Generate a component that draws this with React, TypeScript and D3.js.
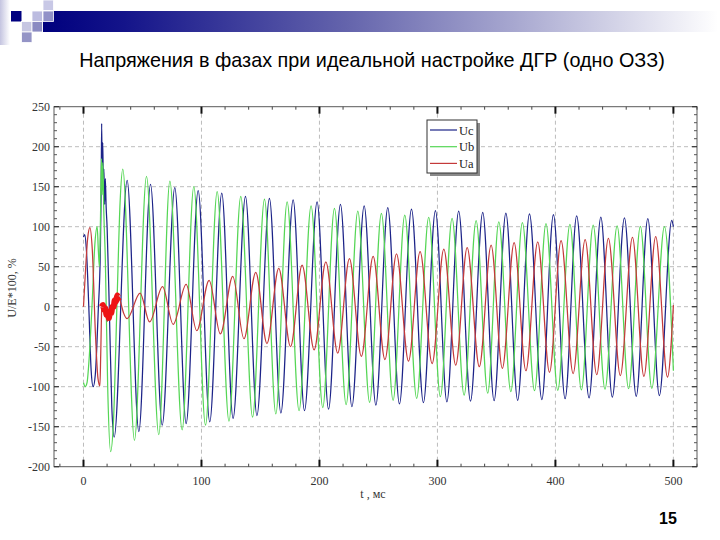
import React from "react";
import * as d3 from "d3";

// ---- data (t in ms, value in % of E) ----
const seriesNames = ["Uc", "Ub", "Ua"];
const seriesColors = ["#1c2388", "#55d655", "#c43a3a"];

const ucPoints: [number, number][] = [
  [0, 87], [1, 90], [2.5, 70], [4.5, 0], [6.5, -80], [8.2, -100], [10, -85], [12.5, -5], [14.3, 70], [15, 150],
  [15.4, 229], [15.8, 170], [16.3, 205], [16.8, 160], [17.3, 172], [17.9, 128], [18.5, 160], [19.2, 125], [20, 100],
  [22, -10], [24, -125], [26, -163], [37, 158], [46.9, -156], [56.8, 153], [66.7, -148], [77.4, 149], [87, -146],
  [97.2, 145], [107, -144], [117.2, 142], [126.8, -139.5], [137.3, 138], [147, -136], [157.6, 135.5], [167.3, -133],
  [177.7, 133.4], [187.3, -130], [198, 131], [207.7, -128], [217.8, 128], [227.5, -125], [237.9, 126], [247.8, -123],
  [257.9, 124], [267.8, -121.5], [278, 122], [288.1, -120], [298.3, 120], [308, -119], [318, 119.5], [328, -118],
  [338.4, 118], [348, -117.5], [358, 117], [368, -117], [378, 116], [388.5, -116], [398.3, 115], [408.2, -115],
  [418, 113.5], [428.5, -114], [438.5, 112], [448.2, -113], [458.5, 111], [468.5, -112], [478.3, 110], [488.1, -111],
  [498.6, 108], [500, 100],
];

const ubPoints: [number, number][] = [
  [0, -95], [1.5, -100], [3, -95], [5, -60], [7.5, 10], [9.5, 75], [11.6, 100], [12.6, 70], [13.5, 50], [14.4, 110],
  [15.2, 185], [15.8, 140], [16.4, 180], [17.2, 120], [18.5, 60], [20.5, -100], [23, -181], [25.5, -140], [28.5, 10],
  [31, 130], [33.3, 172], [43.2, -167], [53.4, 163], [63.8, -160], [73.2, 157], [83.6, -154], [93.5, 150],
  [103.4, -148], [113.3, 144], [123.3, -143], [133.3, 138], [143.3, -138], [153.4, 134.5], [163, -134], [172.6, 131],
  [182.7, -130], [192.9, 126], [202.8, -126], [212.7, 123], [222.6, -122.5], [232.5, 119.6], [242.5, -119.5],
  [252.5, 116.7], [262.4, -117], [272.3, 114.6], [282.4, -114.5], [292.6, 111.7], [302.5, -112.5], [312.4, 110.5],
  [322.6, -110.5], [332.8, 107.5], [342.6, -108], [352, 106], [362.2, -106], [372, 105], [382.3, -105], [392, 104],
  [402, -104.5], [412.3, 103], [422, -104], [432, 102], [442, -103], [452.3, 101], [462, -102.5], [472, 100.5],
  [481.7, -102], [492.4, 100], [500, -80],
];

const uaPoints: [number, number][] = [
  [0, 0], [1.5, 40], [3.5, 85], [5.4, 99], [7.5, 70], [10, -30], [12.3, -90], [13.9, -99], [14.6, -60], [15.5, -2],
  [17, 3], [18.5, -8], [20.3, -18], [22, -10], [24, -2], [26.5, 8], [28.6, 17], [31, 8], [34, -8], [37, -15],
  [48, 17], [56, -19], [67, 25], [76, -22], [87, 28], [96, -30], [106.5, 33], [116, -34], [126.5, 38], [136, -40],
  [146, 43], [155.5, -46], [165.5, 48], [175.5, -50], [185.3, 52], [195.5, -54], [205.4, 56], [215.5, -58],
  [225.4, 60], [235.5, -62], [245.5, 63], [255.5, -66], [265.3, 66], [275.5, -68], [285.3, 69], [295.5, -71],
  [305.4, 72], [315.5, -73], [325.2, 74], [335.5, -75], [345.5, 77], [355, -77], [365, 80], [375, -80], [385, 81],
  [395, -82], [404.8, 82.5], [415, -83.5], [425.2, 84], [435, -85], [444.9, 85.5], [455, -86], [465.3, 86.7],
  [475, -87], [485, 87.5], [495, -88], [500, 2],
];

const uaNoisePoints: [number, number][] = [
  [15.3, 0], [16.5, 2], [17.5, -4], [18.5, -2], [19.5, -10], [20.5, -8], [21.5, -14], [22.5, -6], [23.5, -8],
  [24.5, 0], [25.5, 0], [26.5, 8], [27.5, 6], [28.6, 14], [29.5, 11], [30.5, 12],
];

const xTicks = [0, 100, 200, 300, 400, 500];
const yTicks = [-200, -150, -100, -50, 0, 50, 100, 150, 200, 250];
const title = "Напряжения в фазах при идеальной настройке ДГР (одно ОЗЗ)";
const xLabel = "t , мс";
const yLabel = "U/E*100, %";
const pageNumber = "15";

export default function App() {
  const left = 54, right = 697, top = 106.7, bottom = 466.7;
  const x = d3.scaleLinear().domain([-25, 520]).range([left, right]);
  const y = d3.scaleLinear().domain([-200, 250]).range([bottom, top]);
  const line = d3
    .line<[number, number]>()
    .x((d) => x(d[0]))
    .y((d) => y(d[1]))
    .curve(d3.curveMonotoneX);

  const xMinor = d3.range(-20, 521, 20).filter((v) => !xTicks.includes(v));
  const yMinor = d3.range(-200, 251, 10).filter((v) => !yTicks.includes(v));
  const serif = "'Liberation Serif', 'DejaVu Serif', serif";
  const sans = "'Liberation Sans', Arial, sans-serif";

  const all = [ucPoints, ubPoints, uaPoints];
  const lx = 427, ly = 120, lw = 50, lh = 53;

  return (
    <svg width={720} height={540} style={{ position: "absolute", left: 0, top: 0, background: "#fff" }}>
      <defs>
        <linearGradient id="bar" x1="0" x2="1" y1="0" y2="0">
          <stop offset="0" stopColor="#00007e" />
          <stop offset="0.12" stopColor="#14148a" />
          <stop offset="0.45" stopColor="#6464ac" />
          <stop offset="0.7" stopColor="#a8a8d0" />
          <stop offset="1" stopColor="#ffffff" />
        </linearGradient>
        <linearGradient id="side" x1="0" x2="1" y1="0" y2="0">
          <stop offset="0" stopColor="#c4c4e0" />
          <stop offset="1" stopColor="#ffffff" />
        </linearGradient>
        <clipPath id="plot">
          <rect x={left} y={top} width={right - left} height={bottom - top} />
        </clipPath>
      </defs>

      {/* header decoration */}
      <rect x={0} y={0} width={10} height={45} fill="url(#side)" />
      <rect x={43} y={11} width={675} height={21} fill="url(#bar)" />
      <rect x={11} y={11} width={10.5} height={10.5} fill="#000080" />
      <rect x={32} y={11} width={10.5} height={10.5} fill="#bcbce0" stroke="#fff" strokeWidth={0.8} />
      <rect x={43} y={0} width={10.5} height={10.5} fill="#c8c8e6" stroke="#fff" strokeWidth={0.8} />
      <rect x={43} y={11} width={10.5} height={10.5} fill="#9292c8" stroke="#fff" strokeWidth={0.8} />
      <rect x={21.5} y={21.5} width={10.5} height={10.5} fill="#c6c6e2" stroke="#fff" strokeWidth={0.8} />
      <rect x={32} y={21.5} width={10.5} height={10.5} fill="#8a8ac2" stroke="#fff" strokeWidth={0.8} />
      <rect x={21.5} y={32} width={10.5} height={10.5} fill="#9494c6" stroke="#fff" strokeWidth={0.8} />

      <text x={372} y={67} textAnchor="middle" fontFamily={sans} fontSize={19.8} fill="#000">
        {title}
      </text>

      {/* grid */}
      {xTicks.map((t) => (
        <line key={"gx" + t} x1={x(t)} x2={x(t)} y1={top} y2={bottom} stroke="#bdbdbd" strokeDasharray="4,3" />
      ))}
      {yTicks.filter((v) => v > -200 && v < 250).map((v) => (
        <line key={"gy" + v} x1={left} x2={right} y1={y(v)} y2={y(v)} stroke="#bdbdbd" strokeDasharray="4,3" />
      ))}

      {/* series */}
      <g clipPath="url(#plot)" fill="none" strokeLinejoin="round">
        {all.map((pts, i) => (
          <path key={seriesNames[i]} d={line(pts) || ""} stroke={seriesColors[i]} strokeWidth={1.25} />
        ))}
        <path d={line(uaNoisePoints) || ""} stroke="#ee1414" strokeWidth={6} />
      </g>

      {/* frame */}
      <rect x={left} y={top} width={right - left} height={bottom - top} fill="none" stroke="#5a5a5a" strokeWidth={1} />

      {/* ticks */}
      {xTicks.map((t) => (
        <g key={"tx" + t} stroke="#111" strokeWidth={2}>
          <line x1={x(t)} x2={x(t)} y1={bottom} y2={bottom - 7} />
          <line x1={x(t)} x2={x(t)} y1={top} y2={top + 7} />
        </g>
      ))}
      {xMinor.map((t) => (
        <g key={"mx" + t} stroke="#444" strokeWidth={1}>
          <line x1={x(t)} x2={x(t)} y1={bottom} y2={bottom - 3} />
          <line x1={x(t)} x2={x(t)} y1={top} y2={top + 3} />
        </g>
      ))}
      {yTicks.map((v) => (
        <g key={"ty" + v} stroke="#333" strokeWidth={1.2}>
          <line x1={left} x2={left + 5} y1={y(v)} y2={y(v)} />
          <line x1={right} x2={right - 5} y1={y(v)} y2={y(v)} />
        </g>
      ))}
      {yMinor.map((v) => (
        <g key={"my" + v} stroke="#555" strokeWidth={1}>
          <line x1={left} x2={left + 3} y1={y(v)} y2={y(v)} />
          <line x1={right} x2={right - 3} y1={y(v)} y2={y(v)} />
        </g>
      ))}

      {/* tick labels */}
      {xTicks.map((t) => (
        <text key={"lx" + t} x={x(t)} y={485} textAnchor="middle" fontFamily={serif} fontSize={12} fill="#333">
          {t}
        </text>
      ))}
      {yTicks.map((v) => (
        <text key={"ly" + v} x={50} y={y(v) + 4} textAnchor="end" fontFamily={serif} fontSize={12} fill="#333">
          {v}
        </text>
      ))}
      <text x={373} y={498} textAnchor="middle" fontFamily={serif} fontSize={12} fill="#333">
        {xLabel}
      </text>
      <text
        transform={`translate(16, 288) rotate(-90)`}
        textAnchor="middle"
        fontFamily={serif}
        fontSize={12}
        fill="#333"
      >
        {yLabel}
      </text>

      {/* legend */}
      <rect x={lx + 3} y={ly + 3} width={lw} height={lh} fill="#8a8a8a" />
      <rect x={lx} y={ly} width={lw} height={lh} fill="#fff" stroke="#333" strokeWidth={1} />
      {seriesNames.map((n, i) => (
        <g key={"lg" + n}>
          <line x1={lx + 3} x2={lx + 30} y1={ly + 10 + i * 16.7} y2={ly + 10 + i * 16.7} stroke={seriesColors[i]} strokeWidth={1.2} />
          <text x={lx + 32} y={ly + 14.5 + i * 16.7} fontFamily={serif} fontSize={12.5} fill="#222">
            {n}
          </text>
        </g>
      ))}

      <text x={668} y={524} textAnchor="middle" fontFamily={sans} fontSize={16} fontWeight="bold" fill="#000">
        {pageNumber}
      </text>
    </svg>
  );
}
